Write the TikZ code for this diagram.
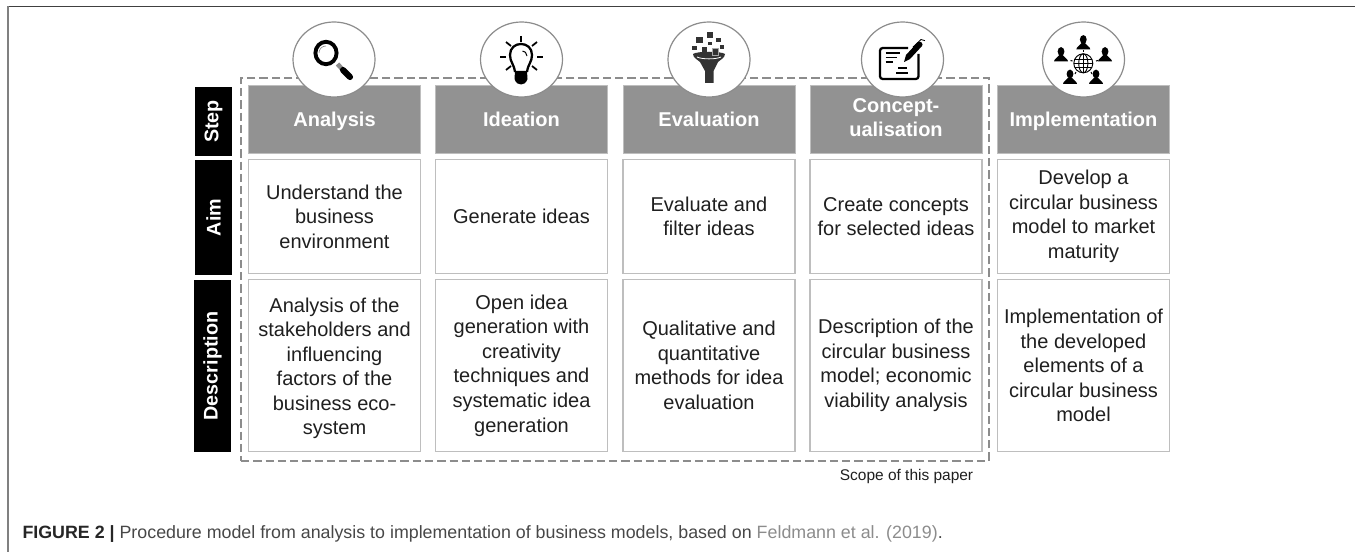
\documentclass[tikz,border=0pt]{standalone}
\usepackage{fontspec}
\setmainfont{Liberation Sans}
\usetikzlibrary{shapes.geometric}

\definecolor{headgray}{RGB}{146,146,146}
\definecolor{cellgray}{RGB}{190,190,190}
\definecolor{dashgray}{RGB}{140,140,140}
\definecolor{icondark}{RGB}{51,51,51}

\tikzset{every picture/.style={line width=0.75pt}}
\tikzset{
  headbox/.style={draw=cellgray,fill=headgray,text=white,font=\fontsize{15}{17.5}\bfseries\selectfont,align=center,inner sep=0pt,minimum width=129pt,minimum height=51pt,execute at begin node=\rule{0pt}{14pt},execute at end node=\vphantom{Ay}},
  aimbox/.style={draw=cellgray,line width=1.1pt,fill=white,text=black!88,font=\fontsize{15}{18.4}\selectfont,align=center,inner sep=0pt,minimum width=129pt,minimum height=85.5pt},
  descbox/.style={aimbox,minimum height=129pt},
  sidebox/.style={fill=black,text=white,rotate=90,font=\fontsize{14.8}{18}\bfseries\selectfont,inner sep=0pt,minimum height=27.75pt},
  iconring/.style={draw=dashgray,line width=0.9pt,fill=white,ellipse,inner sep=0pt,minimum width=61.5pt,minimum height=56.25pt}
}
\newcommand{\personat}[2]{
  \begin{scope}[shift={(#1,#2)}]
    \fill (0,0) circle [x radius=3.4, y radius=4.4];
    \fill (-7,10) .. controls (-7,7) and (-3,6.5) .. (-1.6,3.5) -- (1.6,3.5) .. controls (3,6.5) and (7,7) .. (7,10) -- cycle;
  \end{scope}
}

\begin{document}
\begin{tikzpicture}[x=0.75pt,y=0.75pt,yscale=-1,xscale=1]
\useasboundingbox (0,0) rectangle (1355,552);

% Frame
\draw [draw=black!75,line width=1.1pt] (8,6.5) -- (1355,6.5) ;
\draw [draw=black!50,line width=1.1pt] (8,6.5) -- (8,552) ;

% Scope
\node (scopebox) [draw=dashgray,line width=1.1pt,dash pattern=on 6.2pt off 3pt,minimum width=561pt,minimum height=287.25pt,inner sep=0pt] at (615,269.5) {};
\node (scopelabel) [font=\fontsize{11.6}{14}\selectfont,text=black!88,inner sep=0pt] at (906.5,476) {Scope of this paper};

% Side labels
\node (sidestep) [sidebox,minimum width=51.75pt] at (213.5,121.5) {Step};
\node (sideaim) [sidebox,minimum width=86.25pt] at (213.5,217.5) {Aim};
\node (sidedesc) [sidebox,minimum width=129pt] at (212.5,366) {Description};

% Step row
\node (stepone) [headbox] at (334.5,119.5) {Analysis};
\node (steptwo) [headbox] at (521.5,119.5) {Ideation};
\node (stepthree) [headbox] at (709,119.5) {Evaluation};
\node (stepfour) [headbox] at (896,119.5) {Concept-\\ualisation};
\node (stepfive) [headbox] at (1083.5,119.5) {Implementation};

% Aim row
\node (aimone) [aimbox] at (334.5,216.5) {Understand the\\business\\environment};
\node (aimtwo) [aimbox] at (521.5,216.5) {Generate ideas};
\node (aimthree) [aimbox] at (709,216.5) {Evaluate and\\filter ideas};
\node (aimfour) [aimbox] at (896,216.5) {Create concepts\\for selected ideas};
\node (aimfive) [aimbox] at (1083.5,216.5) {Develop a\\circular business\\model to market\\maturity};

% Description row
\node (descone) [descbox] at (334.5,365.5) {\rule{0pt}{15pt}Analysis of the\\stakeholders and\\influencing\\factors of the\\business eco-\\system};
\node (desctwo) [descbox] at (521.5,365.5) {Open idea\\generation with\\creativity\\techniques and\\systematic idea\\generation};
\node (descthree) [descbox] at (709,365.5) {Qualitative and\\quantitative\\methods for idea\\evaluation};
\node (descfour) [descbox] at (896,365.5) {Description of the\\circular business\\model; economic\\viability analysis};
\node (descfive) [descbox] at (1083.5,365.5) {Implementation of\\the developed\\elements of a\\circular business\\model};

% Icon rings
\node (ringone) [iconring] at (334,59.5) {};
\node (ringtwo) [iconring] at (521.5,59.5) {};
\node (ringthree) [iconring] at (709,59.5) {};
\node (ringfour) [iconring] at (902.5,59.5) {};
\node (ringfive) [iconring] at (1083.5,59.5) {};

% Magnifier
\draw [line width=2.9pt] (326,53) circle [x radius=10.6, y radius=11.2] ;
\draw [draw=black!45,line width=0.5pt] (319,53) .. controls (319,49) and (322,46) .. (326,46) ;
\draw [draw=black!45,line width=3.4pt] (337.5,64) -- (343,70) ;
\draw [line width=4.6pt,line cap=round] (343,70) -- (350,77) ;

% Bulb
\draw [line width=1.7pt] (515,72) .. controls (514,64) and (510,62) .. (510,55) .. controls (510,48) and (515,44) .. (521,44) .. controls (527,44) and (532,48) .. (532,55) .. controls (532,62) and (528,64) .. (527,72) ;
\fill (515,71) -- (527,71) -- (527.5,79) .. controls (526,83) and (524,84.5) .. (521,84.5) .. controls (518,84.5) and (516,83) .. (514.5,79) -- cycle ;
\draw [line width=0.75pt] (522.5,51) .. controls (525,51) and (526.5,53) .. (527,56) ;
\draw [line width=1.3pt] (521,36) -- (521,42) ;
\draw [line width=1.3pt] (500,57) -- (506,57) ;
\draw [line width=1.3pt] (537,57) -- (543,57) ;
\draw [line width=1.3pt] (506,42) -- (511,46) ;
\draw [line width=1.3pt] (537,42) -- (532,46) ;
\draw [line width=1.3pt] (506,70) -- (511,66) ;
\draw [line width=1.3pt] (537,70) -- (532,66) ;

% Funnel
\fill [icondark] (693,54) .. controls (697,51) and (721,51) .. (725,54) .. controls (725,58) and (720,60) .. (718,62) -- (713.5,71) -- (713.5,83) -- (705,83) -- (705,71) -- (700,62) .. controls (698,60) and (693,58) .. (693,54) -- cycle ;
\draw [draw=white,line width=0.6pt] (697,57) .. controls (702,59.5) and (716,59.5) .. (721,57) ;
\fill [icondark] (696,36.7) rectangle (702.7,43.3) ;
\fill [icondark] (706.7,31.7) rectangle (713.3,38.3) ;
\fill [icondark] (716,37.7) rectangle (720.5,42) ;
\fill [icondark] (708.3,41.7) rectangle (711.7,45) ;
\fill [icondark] (692,45.7) rectangle (696.7,50.3) ;
\fill [icondark] (702,46.7) rectangle (707.3,51.7) ;
\fill [icondark] (720,45) rectangle (724,49) ;
\draw [draw=black!35,fill=icondark,line width=0.4pt] (712,48.3) rectangle (718.7,55) ;

% Form and pen
\draw [line width=1.7pt,rounded corners=2pt] (908,48) -- (880,48) -- (880,79) -- (918.5,79) -- (918.5,54) ;
\draw [line width=1.3pt] (885.7,52.7) -- (900,52.7) ;
\draw [line width=1.3pt] (885.7,57.5) -- (897,57.5) ;
\draw [line width=1.3pt] (885.7,62.3) -- (893.3,62.3) ;
\draw [line width=1.3pt] (898.3,67.7) -- (906.7,67.7) ;
\draw [line width=1.3pt] (896,73.3) -- (908.3,73.3) ;
\fill (904,62) -- (906,55) -- (918,42) .. controls (920,40) and (924,44) .. (922,46) -- (910,59) -- cycle ;
\draw [line width=0.6pt] (913,47) -- (921,39.5) -- (925,40.7) ;

% Globe and people
\draw [line width=0.7pt] (1083.3,63.3) circle [x radius=9.5, y radius=9.5] ;
\draw [line width=0.7pt] (1083.3,63.3) circle [x radius=4.6, y radius=9.5] ;
\draw [line width=0.7pt] (1083.3,53.8) -- (1083.3,72.8) ;
\draw [line width=0.7pt] (1074.5,59) -- (1092.1,59) ;
\draw [line width=0.7pt] (1073.8,63.3) -- (1092.8,63.3) ;
\draw [line width=0.7pt] (1074.5,67.6) -- (1092.1,67.6) ;
\personat{1083.3}{39.5}
\personat{1061}{51.5}
\personat{1105}{51.5}
\personat{1070}{74}
\personat{1096}{74}
\draw [line width=0.8pt] (1083.3,50.5) -- (1083.3,52.5) ;
\draw [line width=0.8pt] (1070.5,60.5) -- (1072.5,61) ;
\draw [line width=0.8pt] (1096,61) -- (1098,60.5) ;
\draw [line width=0.8pt] (1076,72) -- (1075,74) ;
\draw [line width=0.8pt] (1091,72) -- (1092,74) ;

% Caption
\node (caption) [anchor=base west,inner sep=0pt,text=black!72,font=\fontsize{13.37}{16}\selectfont] at (22,538) {{\color{black!85}\bfseries FIGURE 2 |} Procedure model from analysis to implementation of business models, based on {\color{black!45}Feldmann et al. (2019)}.};

\end{tikzpicture}
\end{document}
